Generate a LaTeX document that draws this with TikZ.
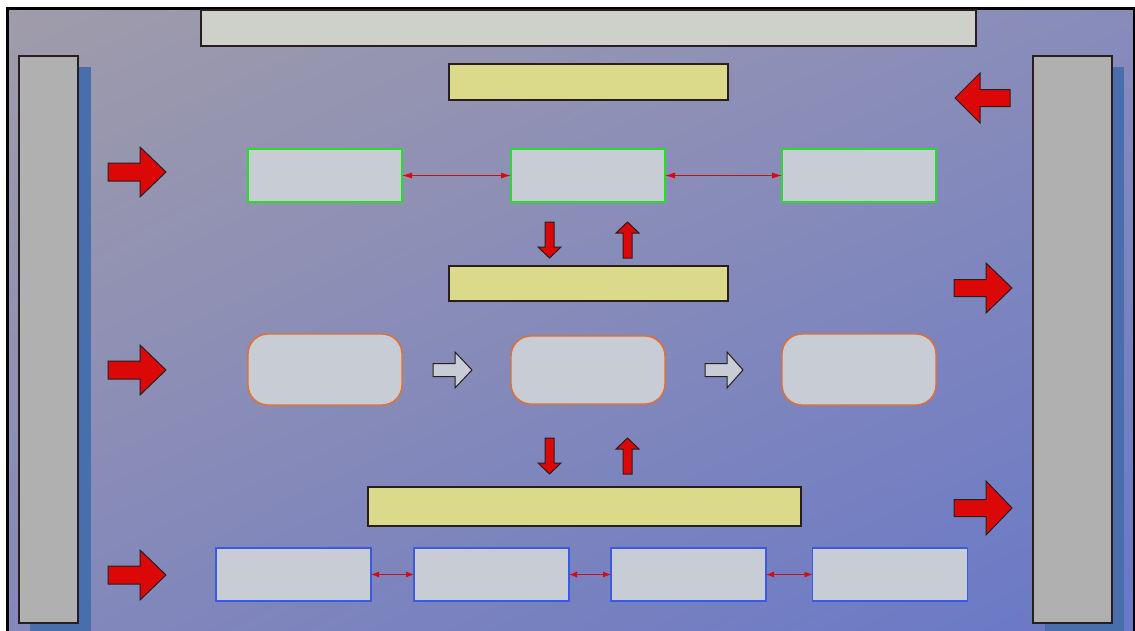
\documentclass[tikz,border=0pt]{standalone}
\usetikzlibrary{arrows.meta,shadings}
\definecolor{bgTL}{RGB}{160,156,170}
\definecolor{bgTR}{RGB}{136,140,186}
\definecolor{bgBL}{RGB}{132,136,186}
\definecolor{bgBR}{RGB}{104,120,200}
\definecolor{shadowblue}{RGB}{72,110,172}
\definecolor{pillar}{RGB}{176,176,176}
\definecolor{titlefill}{RGB}{205,209,201}
\definecolor{yellowfill}{RGB}{219,217,138}
\definecolor{boxfill}{RGB}{200,204,212}
\definecolor{greenline}{RGB}{40,220,40}
\definecolor{orangeline}{RGB}{230,110,40}
\definecolor{blueline}{RGB}{60,90,225}
\definecolor{redfill}{RGB}{220,8,8}
\definecolor{darkline}{RGB}{40,30,30}
\newcommand{\HArr}[7]{\draw[#1] (#2,#5-#6) -- (#3,#5-#6) -- (#3,#5-#7) -- (#4,#5) -- (#3,#5+#7) -- (#3,#5+#6) -- (#2,#5+#6) -- cycle;}
\newcommand{\VArr}[7]{\draw[#1] (#2-#6,#3) -- (#2-#6,#4) -- (#2-#7,#4) -- (#2,#5) -- (#2+#7,#4) -- (#2+#6,#4) -- (#2+#6,#3) -- cycle;}
\tikzset{
  base/.style={inner sep=0pt, outer sep=0pt, line width=1.2pt},
  pillarbox/.style={base, draw=darkline, fill=pillar},
  titlebox/.style={base, draw=darkline, fill=titlefill},
  yellowbox/.style={base, draw=darkline, fill=yellowfill},
  greenbox/.style={base, line width=1.6pt, draw=greenline, fill=boxfill, minimum width=154pt, minimum height=53pt},
  roundbox/.style={base, line width=1.4pt, draw=orangeline, fill=boxfill, rounded corners=20pt, minimum width=154pt},
  bluebox/.style={base, line width=1.5pt, draw=blueline, fill=boxfill, minimum width=155pt, minimum height=53pt},
  redarrow/.style={fill=redfill, draw=darkline, line width=1pt, line join=miter},
  grayarrow/.style={fill=boxfill, draw=darkline, line width=1pt, line join=miter},
  link/.style={draw=redfill, line width=0.9pt, {Latex[length=10pt,width=6pt]}-{Latex[length=10pt,width=6pt]}},
  linksmall/.style={draw=redfill, line width=0.9pt, {Latex[length=8pt,width=6pt]}-{Latex[length=8pt,width=6pt]}},
}
\begin{document}
\begin{tikzpicture}[x=1pt, y=-1pt]
\useasboundingbox (0,0) rectangle (1135,630);
\clip (0,0) rectangle (1135,630);
\fill[white] (0,0) rectangle (1135,630);
\shade[upper left=bgTL, upper right=bgTR, lower left=bgBL, lower right=bgBR] (7,8) rectangle (1134,640);
% shadows
\fill[shadowblue] (30,67) rectangle (91,640);
\fill[shadowblue] (1045,67) rectangle (1124,640);
% pillars
\node[pillarbox, minimum width=59pt, minimum height=567pt] (lp) at (48.5,339.5) {};
\node[pillarbox, minimum width=79pt, minimum height=567pt] (rp) at (1072.5,339.5) {};
% frame
\draw[black, line width=3pt] (7,640) -- (7,8) -- (1134,8) -- (1134,640);
% title and yellow bars
\node[titlebox, minimum width=775pt, minimum height=36pt] (title) at (588.5,28) {};
\node[yellowbox, minimum width=279pt, minimum height=36pt] (y1) at (588.5,82) {};
\node[yellowbox, minimum width=279pt, minimum height=35pt] (y2) at (588.5,283.5) {};
\node[yellowbox, minimum width=433pt, minimum height=39pt] (y3) at (584.5,506.5) {};
% green row
\node[greenbox] (g1) at (325,175.5) {};
\node[greenbox] (g2) at (588,175.5) {};
\node[greenbox] (g3) at (859,175.5) {};
\draw[link] (g1.east) -- (g2.west);
\draw[link] (g2.east) -- (g3.west);
% rounded row
\node[roundbox, minimum height=71pt] (r1) at (325,369.5) {};
\node[roundbox, minimum height=68pt] (r2) at (588,370) {};
\node[roundbox, minimum height=71pt] (r3) at (859,369.5) {};
% blue row
\node[bluebox] (b1) at (293.5,574.5) {};
\node[bluebox] (b2) at (491.5,574.5) {};
\node[bluebox] (b3) at (688.5,574.5) {};
\node[bluebox] (b4) at (890,574.5) {};
\draw[linksmall] (b1.east) -- (b2.west);
\draw[linksmall] (b2.east) -- (b3.west);
\draw[linksmall] (b3.east) -- (b4.west);
% gray arrows
\HArr{grayarrow}{433}{455}{472}{370}{6.5}{18}
\HArr{grayarrow}{705}{727}{743}{370}{6.5}{18}
% left red arrows
\HArr{redarrow}{108}{140}{166}{172}{9}{25}
\HArr{redarrow}{108}{140}{166}{370}{9}{25}
\HArr{redarrow}{108}{140}{166}{575}{9}{25}
% right side arrows
\HArr{redarrow}{1010}{980}{955}{98}{8.5}{25}
\HArr{redarrow}{954}{986}{1012}{288}{8.5}{25}
\HArr{redarrow}{954}{986}{1012}{508}{8.5}{27}
% vertical arrows
\VArr{redarrow}{549.5}{222}{247}{258}{4.5}{11.5}
\VArr{redarrow}{627.5}{258}{233}{222}{4.5}{11.5}
\VArr{redarrow}{549.5}{438}{463}{474}{4.5}{11.5}
\VArr{redarrow}{627.5}{474}{449}{438}{4.5}{11.5}
\end{tikzpicture}
\end{document}
